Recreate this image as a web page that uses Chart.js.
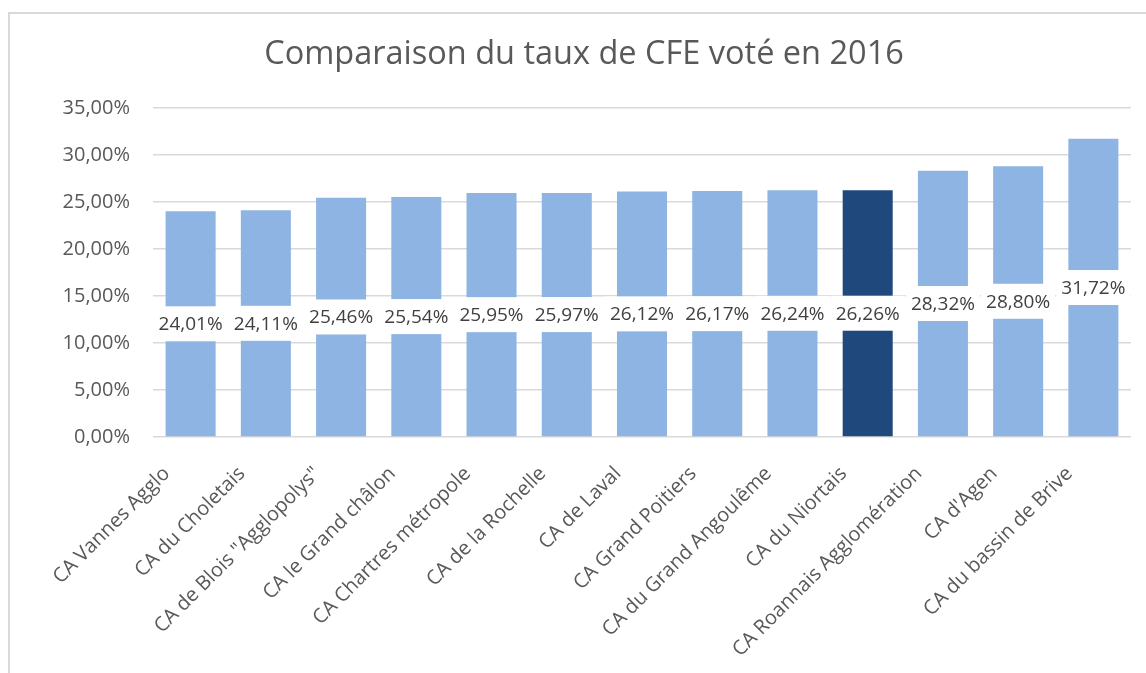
<!DOCTYPE html>
<html>
<head>
<meta charset="utf-8">
<script src="https://cdn.jsdelivr.net/npm/chart.js@4/dist/chart.umd.min.js"></script>
<style>
  html, body { margin: 0; padding: 0; background: #fff; overflow: hidden; }
  #frame {
    position: absolute; left: 8px; top: 12px; width: 1200px; height: 700px;
    border-left: 2px solid #d9d9d9; border-top: 2px solid #d9d9d9;
  }
  #wrap { position: absolute; left: 0; top: 0; width: 1146px; height: 673px; }
</style>
</head>
<body>
<div id="frame"></div>
<div id="wrap"><canvas id="cfe"></canvas></div>
<script>
const CATEGORIES = [
  "CA Vannes Agglo",
  "CA du Choletais",
  "CA de Blois \"Agglopolys\"",
  "CA le Grand châlon",
  "CA Chartres métropole",
  "CA de la Rochelle",
  "CA de Laval",
  "CA Grand Poitiers",
  "CA du Grand Angoulême",
  "CA du Niortais",
  "CA Roannais Agglomération",
  "CA d'Agen",
  "CA du bassin de Brive",
];

const TAUX = [24.01, 24.11, 25.46, 25.54, 25.95, 25.97, 26.12, 26.17, 26.24, 26.26, 28.32, 28.80, 31.72];

const Y_TICKS = [0, 5, 10, 15, 20, 25, 30, 35];

const HIGHLIGHT = "CA du Niortais";

const LIGHT = "#8eb4e3";
const DARK = "#1f497d";
const FONT = "'Open Sans', sans-serif";

function fmt(v) {
  return v.toFixed(2).replace(".", ",") + "%";
}

// labels posés au milieu de chaque barre, sur fond blanc
const centerLabels = {
  id: "centerLabels",
  afterDatasetsDraw(chart) {
    const ctx = chart.ctx;
    const meta = chart.getDatasetMeta(0);
    ctx.save();
    ctx.font = "19px " + FONT;
    ctx.textAlign = "center";
    ctx.textBaseline = "middle";
    meta.data.forEach((bar, i) => {
      const p = bar.getProps(["x", "y", "base"], true);
      const cy = (p.y + p.base) / 2;
      const txt = fmt(TAUX[i]);
      const w = ctx.measureText(txt).width + 10;
      const h = 35;
      ctx.fillStyle = "#ffffff";
      ctx.fillRect(p.x - w / 2, cy - h / 2, w, h);
      ctx.fillStyle = "#404040";
      ctx.fillText(txt, p.x, cy + 1);
    });
    ctx.restore();
  },
};

function drawChart() {
  const ctx = document.getElementById("cfe");
  new Chart(ctx, {
    type: "bar",
    data: {
      labels: CATEGORIES,
      datasets: [
        {
          data: TAUX,
          backgroundColor: CATEGORIES.map((c) => (c === HIGHLIGHT ? DARK : LIGHT)),
          categoryPercentage: 1,
          barPercentage: 0.665,
        },
      ],
    },
    options: {
      responsive: true,
      maintainAspectRatio: false,
      animation: false,
      layout: { padding: { left: 37, right: 15, top: 0, bottom: 0 } },
      plugins: {
        legend: { display: false },
        tooltip: { enabled: false },
        title: {
          display: true,
          text: "Comparaison du taux de CFE voté en 2016",
          color: "#595959",
          font: { family: FONT, size: 32.5, weight: "normal" },
          padding: { top: 35, bottom: 34 },
        },
      },
      scales: {
        y: {
          min: 0,
          max: 35,
          afterBuildTicks: (scale) => {
            scale.ticks = Y_TICKS.map((v) => ({ value: v }));
          },
          afterFit: (scale) => {
            scale.width = 116;
          },
          border: { display: false },
          grid: { color: "#d9d9d9", lineWidth: 1.5, drawTicks: false },
          ticks: {
            padding: 23,
            color: "#595959",
            font: { family: FONT, size: 20 },
            callback: (v) => fmt(v),
          },
        },
        x: {
          afterFit: (scale) => {
            scale.height = 236;
          },
          border: { display: false },
          grid: { display: false },
          ticks: {
            autoSkip: false,
            maxRotation: 45,
            minRotation: 45,
            padding: 17,
            labelOffset: -24,
            color: "#595959",
            font: { family: FONT, size: 20 },
          },
        },
      },
    },
    plugins: [centerLabels],
  });
}

drawChart();
</script>
</body>
</html>
